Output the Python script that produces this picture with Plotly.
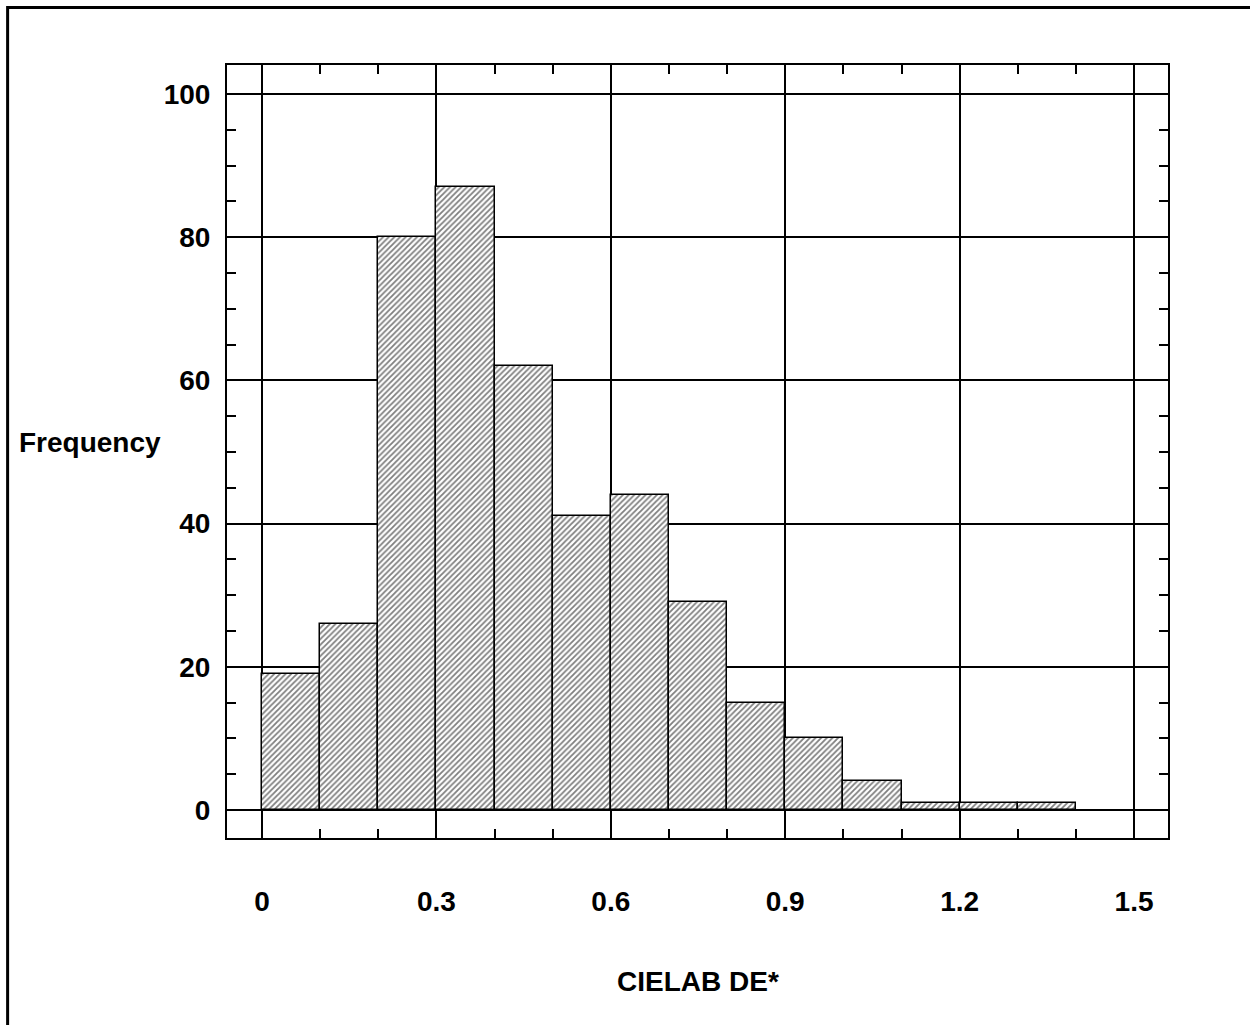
import plotly.graph_objects as go

# Histogram of CIELAB colour differences (bin width 0.1)
bin_left = [0.0, 0.1, 0.2, 0.3, 0.4, 0.5, 0.6, 0.7, 0.8, 0.9, 1.0, 1.1, 1.2, 1.3]
frequency = [19, 26, 80, 87, 62, 41, 44, 29, 15, 10, 4, 1, 1, 1]
bin_width = 0.1

x_ticks = [0, 0.3, 0.6, 0.9, 1.2, 1.5]
x_tick_labels = ["0", "0.3", "0.6", "0.9", "1.2", "1.5"]
y_ticks = [0, 20, 40, 60, 80, 100]
y_tick_labels = ["0", "20", "40", "60", "80", "100"]

FONT = "Liberation Sans, Arial, Helvetica, sans-serif"
FS = 28

fig = go.Figure()
fig.add_trace(go.Bar(
    x=[b + bin_width / 2 for b in bin_left],
    y=frequency,
    width=bin_width,
    marker=dict(
        color="white",
        line=dict(color="black", width=1.5),
        pattern=dict(shape="/", fgcolor="black", bgcolor="white", size=4, solidity=0.45),
    ),
    showlegend=False,
))

axis_common = dict(
    showline=True, linecolor="black", linewidth=2, mirror="ticks",
    showgrid=True, gridcolor="black", gridwidth=2, zeroline=False,
    ticks="inside", ticklen=9, tickwidth=2, tickcolor="black",
    tickfont=dict(family=FONT, size=FS, color="black", weight="bold"),
)

fig.update_xaxes(
    range=[-0.0602, 1.5584],
    tickvals=x_ticks, ticktext=x_tick_labels,
    minor=dict(dtick=0.1, tick0=0, ticks="inside", ticklen=9, tickwidth=2,
               tickcolor="black", showgrid=False),
    ticklabelstandoff=37,
    **axis_common,
)
fig.update_yaxes(
    range=[-3.91, 104.05],
    tickvals=y_ticks, ticktext=y_tick_labels,
    minor=dict(dtick=5, tick0=0, ticks="inside", ticklen=9, tickwidth=2,
               tickcolor="black", showgrid=False),
    ticklabelstandoff=9,
    **axis_common,
)

fig.add_annotation(
    text="CIELAB DE*", xref="paper", yref="paper", x=0.5, y=-0.1855,
    xanchor="center", yanchor="middle", showarrow=False,
    font=dict(family=FONT, size=FS, color="black", weight="bold"),
)
fig.add_annotation(
    text="Frequency", xref="paper", yref="paper", x=-0.146, y=0.512,
    xanchor="center", yanchor="middle", showarrow=False,
    font=dict(family=FONT, size=FS, color="black", weight="bold"),
)

# Outer frame around the whole figure
fig.add_shape(
    type="rect", xref="paper", yref="paper",
    x0=-(227 - 7.5) / 941.5, x1=1.2, y0=-0.5, y1=1 + (65 - 7.5) / 773.5,
    line=dict(color="black", width=3), fillcolor="rgba(0,0,0,0)", layer="above",
)

fig.update_layout(
    width=1250, height=1025,
    margin=dict(l=227, r=82, t=65, b=187),
    paper_bgcolor="white", plot_bgcolor="white",
    bargap=0,
)

fig.write_html("out.html")
